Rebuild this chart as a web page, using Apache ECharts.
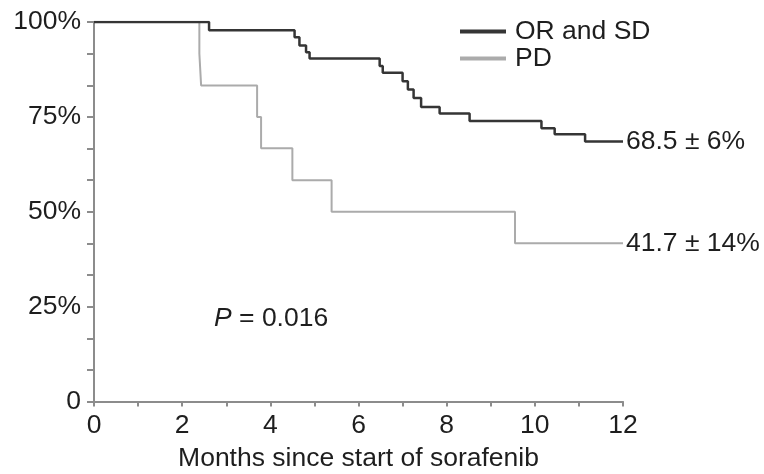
<!DOCTYPE html>
<html>
<head>
<meta charset="utf-8">
<script src="https://cdn.jsdelivr.net/npm/echarts@6/dist/echarts.min.js"></script>
<style>
html,body{margin:0;padding:0;background:#fff;}
#chart{width:764px;height:474px;}
</style>
</head>
<body>
<div id="chart"></div>
<script>
// Data (months, survival %)
const seriesNames = ['OR and SD', 'PD'];
const orsdTimes = [0, 2.61, 4.55, 4.66, 4.81, 4.89, 6.48, 6.55, 7.0, 7.12, 7.25, 7.42, 7.84, 8.52, 10.15, 10.45, 11.14, 12];
const orsdSurv  = [100, 97.8, 96.0, 93.8, 92.0, 90.4, 88.4, 86.6, 84.4, 82.2, 80.0, 77.6, 75.9, 73.9, 72.0, 70.4, 68.5, 68.5];
const pdTimes = [0, 2.39, 2.43, 3.70, 3.79, 4.50, 5.39, 9.55, 12];
const pdSurv  = [100, 91.7, 83.3, 75.0, 66.7, 58.3, 50.0, 41.7, 41.7];
const endLabels = ['68.5 ± 6%', '41.7 ± 14%'];
const xTicks = [0, 2, 4, 6, 8, 10, 12];
const yTickLabels = ['0', '25%', '50%', '75%', '100%'];
const xTitle = 'Months since start of sorafenib';
const pText = '0.016';

const FONT = '"Liberation Sans", Arial, Helvetica, sans-serif';
const FS = 26.5;
const TXT = '#1e1e1e';
const AX = '#8c8c8c';

const pairs = (t, s) => t.map((x, i) => [x, s[i]]);

const chart = echarts.init(document.getElementById('chart'), null, {renderer: 'canvas'});
chart.setOption({
  animation: false,
  backgroundColor: '#fff',
  textStyle: {fontFamily: FONT},
  grid: {left: 94, right: 141, top: 22, bottom: 72.5, containLabel: false, outerBoundsMode: 'none'},
  legend: {
    orient: 'vertical',
    left: 455, top: 13,
    itemWidth: 46, itemHeight: 4, itemGap: 0,
    icon: 'rect',
    textStyle: {fontFamily: FONT, fontSize: FS, color: TXT, padding: [0, 0, 0, 4]},
    data: seriesNames
  },
  xAxis: {
    type: 'value', min: 0, max: 12, interval: 2,
    name: xTitle, nameLocation: 'middle', nameGap: 44,
    nameTextStyle: {fontFamily: FONT, fontSize: FS, color: TXT},
    axisLine: {show: true, onZero: false, lineStyle: {color: AX, width: 2}},
    axisTick: {show: true, length: 5, lineStyle: {color: AX, width: 2}},
    minorTick: {show: true, splitNumber: 2, length: 5, lineStyle: {color: AX, width: 2}},
    axisLabel: {fontFamily: FONT, fontSize: FS, color: TXT, margin: 11,
      formatter: v => String(xTicks[xTicks.indexOf(v)])},
    splitLine: {show: false}, minorSplitLine: {show: false}
  },
  yAxis: {
    type: 'value', min: 0, max: 100, interval: 25,
    axisLine: {show: true, onZero: false, lineStyle: {color: AX, width: 2}},
    axisTick: {show: true, length: 7, lineStyle: {color: AX, width: 2}},
    minorTick: {show: true, splitNumber: 3, length: 7, lineStyle: {color: AX, width: 2}},
    axisLabel: {fontFamily: FONT, fontSize: FS, color: TXT, margin: 13,
      formatter: v => yTickLabels[Math.round(v / 25)]},
    splitLine: {show: false}, minorSplitLine: {show: false}
  },
  series: [
    {
      name: seriesNames[0], type: 'line', step: 'end', symbol: 'none',
      data: pairs(orsdTimes, orsdSurv), z: 3,
      itemStyle: {color: '#353535'},
      lineStyle: {color: '#353535', width: 2.5},
      endLabel: {show: true, formatter: endLabels[0], distance: 3,
        fontFamily: FONT, fontSize: FS, color: TXT}
    },
    {
      name: seriesNames[1], type: 'line', step: 'end', symbol: 'none',
      data: pairs(pdTimes, pdSurv), z: 2,
      itemStyle: {color: '#ababab'},
      lineStyle: {color: '#ababab', width: 2},
      endLabel: {show: true, formatter: endLabels[1], distance: 3,
        fontFamily: FONT, fontSize: FS, color: TXT}
    }
  ],
  graphic: [{
    type: 'text', left: 214, top: 305,
    style: {
      text: '{i|P} = ' + pText,
      rich: {i: {fontStyle: 'italic', fontFamily: FONT, fontSize: FS, fill: TXT}},
      font: FS + 'px ' + FONT, fill: TXT
    }
  }]
});
</script>
</body>
</html>
